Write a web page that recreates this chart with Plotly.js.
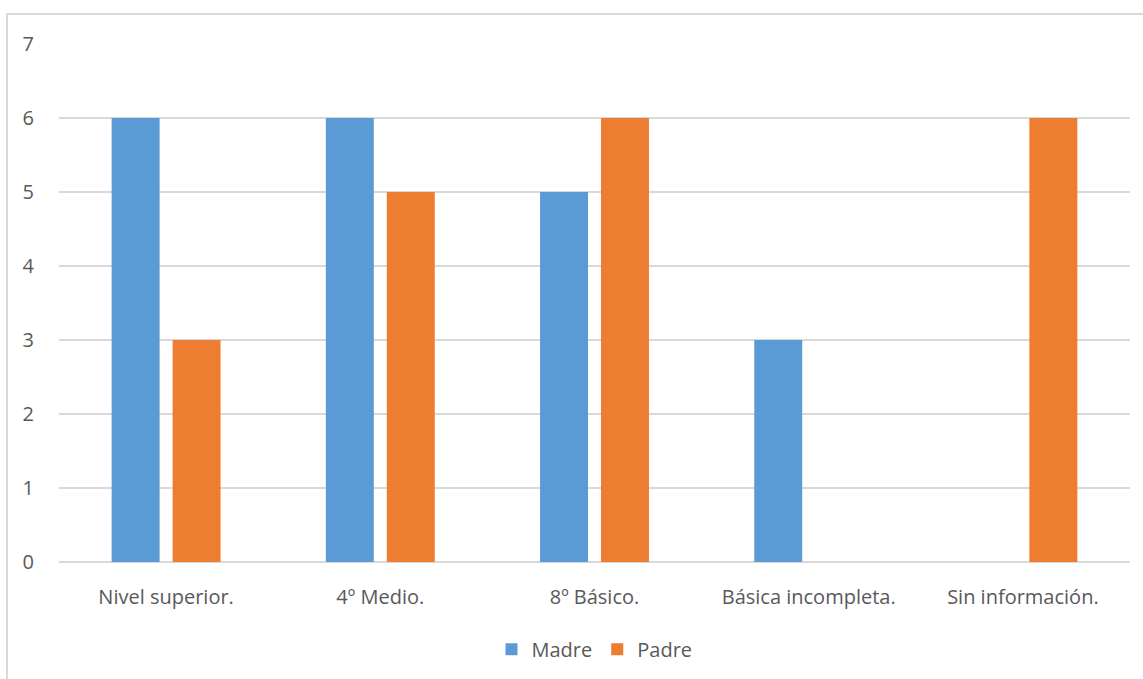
<!DOCTYPE html>
<html>
<head>
<meta charset="utf-8">
<script src="https://cdn.plot.ly/plotly-3.0.1.min.js"></script>
<style>
  html, body { margin: 0; padding: 0; background: #ffffff; }
  #wrap { position: relative; width: 1143px; height: 679px; overflow: hidden; }
  #chart { position: absolute; left: 0; top: 0; width: 1143px; height: 679px; }
  #frame { position: absolute; left: 6px; top: 13px; width: 1200px; height: 800px;
           border-left: 2px solid #d9d9d9; border-top: 2px solid #d9d9d9; pointer-events: none; }
</style>
</head>
<body>
<div id="wrap">
  <div id="chart"></div>
  <div id="frame"></div>
</div>
<script>
// Nivel educacional de madres y padres
const categories = ["Nivel superior.", "4º Medio.", "8º Básico.", "Básica incompleta.", "Sin información."];
const madre = [6, 6, 5, 3, 0];
const padre = [3, 5, 6, 0, 6];
const yTicks = [0, 1, 2, 3, 4, 5, 6, 7];

const fontFamily = "'Open Sans', 'Noto Sans', sans-serif";
const textColor = "#595959";

const traces = [
  { type: "bar", name: "Madre", x: categories, y: madre,
    marker: { color: "#5b9bd5" }, hoverinfo: "x+y" },
  { type: "bar", name: "Padre", x: categories, y: padre,
    marker: { color: "#ed7d31" }, hoverinfo: "x+y" }
];

const layout = {
  width: 1143, height: 679,
  margin: { l: 59, r: 13, t: 44, b: 116 },
  paper_bgcolor: "#ffffff", plot_bgcolor: "#ffffff",
  barmode: "group", bargap: 0.431, bargroupgap: 0.213,
  font: { family: fontFamily, color: textColor, size: 20 },
  showlegend: true,
  legend: { orientation: "h", x: 0.5, xanchor: "center", y: -0.166, yanchor: "middle",
            font: { family: fontFamily, size: 20, color: textColor },
            itemwidth: 30, traceorder: "normal" },
  xaxis: {
    type: "category", showgrid: false, zeroline: false, showline: false,
    ticks: "outside", ticklen: 17, tickcolor: "rgba(0,0,0,0)",
    tickfont: { family: fontFamily, size: 20, color: textColor }
  },
  yaxis: {
    range: [0, 7], tickvals: yTicks, ticktext: yTicks.map(String),
    showgrid: true, gridcolor: "#d9d9d9", gridwidth: 1.5,
    zeroline: true, zerolinecolor: "#d9d9d9", zerolinewidth: 1.5,
    showline: false, ticks: "outside", ticklen: 20, tickcolor: "rgba(0,0,0,0)",
    tickfont: { family: fontFamily, size: 20, color: textColor }
  }
};

Plotly.newPlot("chart", traces, layout, { displayModeBar: false, staticPlot: true });
</script>
</body>
</html>
